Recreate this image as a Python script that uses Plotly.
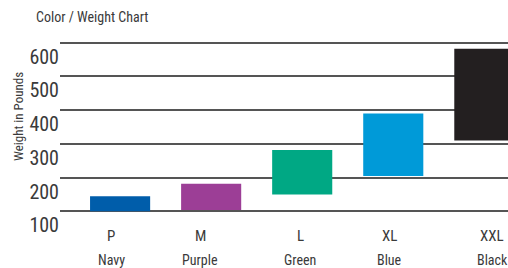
import plotly.graph_objects as go

# Data
sizes = ["P", "M", "L", "XL", "XXL"]
color_names = ["Navy", "Purple", "Green", "Blue", "Black"]
weight_low = [100, 104, 150, 205, 310]
weight_high = [145, 182, 282, 390, 582]
bar_colors = ["#005DAA", "#9C3E96", "#00A884", "#009AD8", "#231F20"]
y_ticks = [100, 200, 300, 400, 500, 600]

FONT = "Liberation Sans Narrow, Arial Narrow, Roboto Condensed, sans-serif"
TXT = "#3a3a3a"

fig = go.Figure()
fig.add_trace(go.Bar(
    x=list(range(len(sizes))),
    y=[h - l for h, l in zip(weight_high, weight_low)],
    base=weight_low,
    marker=dict(color=bar_colors, line=dict(width=0)),
    width=0.66,
    hoverinfo="skip",
))

# category labels (size row and colour-name row)
label_shift = [-9, -11, -2, -4, 8]
for i, (s, c) in enumerate(zip(sizes, color_names)):
    fig.add_annotation(x=i, y=-0.134, xref="x", yref="paper", text=s, showarrow=False,
                       xanchor="center", yanchor="middle", xshift=label_shift[i],
                       font=dict(family=FONT, size=15, color=TXT))
    fig.add_annotation(x=i, y=-0.272, xref="x", yref="paper", text=c, showarrow=False,
                       xanchor="center", yanchor="middle", xshift=label_shift[i],
                       font=dict(family=FONT, size=14, color=TXT))

fig.add_annotation(x=(18 - 60) / 448, y=(213 - 117) / 172, xref="paper", yref="paper",
                   text="Weight in Pounds", textangle=-90, showarrow=False,
                   xanchor="center", yanchor="middle",
                   font=dict(family=FONT, size=13, color=TXT))

fig.update_layout(
    width=508, height=268,
    margin=dict(l=60, r=0, t=41, b=55, autoexpand=False),
    paper_bgcolor="white", plot_bgcolor="white",
    showlegend=False,
    title=dict(text="Color / Weight Chart", xref="container", yref="container",
               x=36 / 508, y=1 - 17 / 268, xanchor="left", yanchor="middle",
               font=dict(family=FONT, size=14, color=TXT)),
    xaxis=dict(range=[-0.66, 4.26], showticklabels=False, showgrid=False,
               zeroline=False, showline=False, ticks="", automargin=False),
    yaxis=dict(range=[95, 605], tickvals=y_ticks, ticktext=[str(v) for v in y_ticks],
               showgrid=True, gridcolor="#555555", gridwidth=2, zeroline=False,
               showline=False, ticks="", ticklabelposition="outside bottom",
               automargin=False,
               tickfont=dict(family=FONT, size=20, color=TXT)),
)

fig.write_html("out.html", config={"displayModeBar": False},
               post_script="document.body.style.margin='0';document.body.style.overflow='hidden';")
